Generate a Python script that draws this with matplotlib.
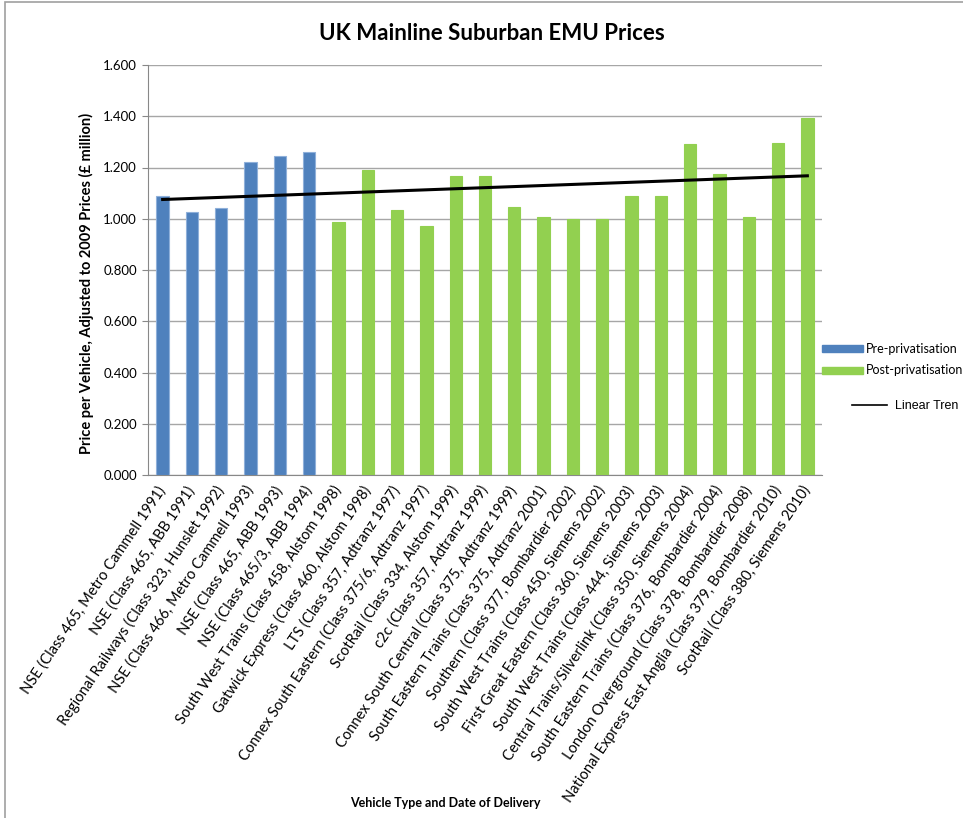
import numpy as np
import matplotlib
matplotlib.use("Agg")
import matplotlib.pyplot as plt
from matplotlib.patches import Rectangle
from matplotlib.lines import Line2D

# ==========================================================
# Data
# ==========================================================

VEHICLES = [
    "NSE (Class 465, Metro Cammell 1991)",
    "NSE (Class 465, ABB 1991)",
    "Regional Railways (Class 323, Hunslet 1992)",
    "NSE (Class 466, Metro Cammell 1993)",
    "NSE (Class 465, ABB 1993)",
    "NSE (Class 465/3, ABB 1994)",
    "South West Trains (Class 458, Alstom 1998)",
    "Gatwick Express (Class 460, Alstom 1998)",
    "LTS (Class 357, Adtranz 1997)",
    "Connex South Eastern (Class 375/6, Adtranz 1997)",
    "ScotRail (Class 334, Alstom 1999)",
    "c2c (Class 357, Adtranz 1999)",
    "Connex South Central (Class 375, Adtranz 1999)",
    "South Eastern Trains (Class 375, Adtranz 2001)",
    "Southern (Class 377, Bombardier 2002)",
    "South West Trains (Class 450, Siemens 2002)",
    "First Great Eastern (Class 360, Siemens 2003)",
    "South West Trains (Class 444, Siemens 2003)",
    "Central Trains/Silverlink (Class 350, Siemens 2004)",
    "South Eastern Trains (Class 376, Bombardier 2004)",
    "London Overground (Class 378, Bombardier 2008)",
    "National Express East Anglia (Class 379, Bombardier 2010)",
    "ScotRail (Class 380, Siemens 2010)",
]

PRICES = [
    1.087, 1.028, 1.043, 1.220, 1.245, 1.261,
    0.988, 1.191, 1.033, 0.970, 1.166, 1.166,
    1.047, 1.008, 0.999, 1.000, 1.087, 1.087,
    1.292, 1.174, 1.008, 1.296, 1.395,
]

N_PRE = 6  # first six deliveries are pre-privatisation

Y_TICKS = [0.0, 0.2, 0.4, 0.6, 0.8, 1.0, 1.2, 1.4, 1.6]

BLUE = "#4F81BD"
GREEN = "#92D050"

# ==========================================================
# Plot
# ==========================================================

plt.rcParams["font.family"] = ["Lato", "DejaVu Sans"]

fig = plt.figure(figsize=(9.63, 8.18), dpi=100)

ax = fig.add_axes([148 / 963, 1 - 475 / 818, 674 / 963, 410 / 818])

x = np.arange(len(PRICES))
colors = [BLUE if i < N_PRE else GREEN for i in x]
edges = ["#8FB0DA" if i < N_PRE else GREEN for i in x]

ax.bar(x, PRICES, width=0.42, color=colors, edgecolor=edges,
       linewidth=0.8, zorder=3)

# linear trend, as Excel draws it
slope, intercept = np.polyfit(x, PRICES, 1)
ax.plot(x, slope * x + intercept, color="black", linewidth=2.2, zorder=4)

ax.set_xlim(-0.5, len(PRICES) - 0.5)
ax.set_ylim(0, 1.6)
ax.set_yticks(Y_TICKS)
ax.set_yticklabels([f"{v:.3f}" for v in Y_TICKS], fontsize=9.5)
ax.yaxis.grid(True, color="#A6A6A6", linewidth=1.0, zorder=0)

ax.set_xticks(x)
ax.set_xticklabels(VEHICLES, rotation=56, ha="right", va="center",
                   rotation_mode="anchor", fontsize=10.5)
ax.tick_params(axis="x", length=0, pad=9)
ax.tick_params(axis="y", length=4, color="#888888", pad=4)

for side in ["top", "right"]:
    ax.spines[side].set_visible(False)
for side in ["left", "bottom"]:
    ax.spines[side].set_color("#888888")

fig.text(492 / 963, 1 - 33 / 818, "UK Mainline Suburban EMU Prices",
         ha="center", va="center", fontsize=16, fontweight="bold")

fig.text(86 / 963, 1 - 283 / 818,
         "Price per Vehicle, Adjusted to 2009 Prices (\u00a3 million)",
         ha="center", va="center", rotation=90, fontsize=10.5,
         fontweight="bold")

fig.text(445 / 963, 1 - 803 / 818, "Vehicle Type and Date of Delivery",
         ha="center", va="center", fontsize=9, fontweight="bold")

# legend, placed by hand to the right of the plot
fig.patches.append(Rectangle((822 / 963, 1 - 352 / 818), 41 / 963, 7 / 818,
                             transform=fig.transFigure, color=BLUE))
fig.patches.append(Rectangle((822 / 963, 1 - 374 / 818), 41 / 963, 7 / 818,
                             transform=fig.transFigure, color=GREEN))
fig.text(866 / 963, 1 - 349 / 818, "Pre-privatisation", fontsize=9,
         va="center")
fig.text(866 / 963, 1 - 370 / 818, "Post-privatisation", fontsize=9,
         va="center")
fig.lines.append(Line2D([852 / 963, 887 / 963], [1 - 405 / 818, 1 - 405 / 818],
                        transform=fig.transFigure, color="black",
                        linewidth=1.2))
fig.text(895 / 963, 1 - 406 / 818, "Linear Tren", fontsize=9,
         va="center", family=["Liberation Sans", "DejaVu Sans"])

# chart area border
fig.patches.append(Rectangle((5 / 963, -0.1), 1.2, 1 - 2 / 818 + 0.1,
                             transform=fig.transFigure, fill=False,
                             edgecolor="#A0A0A0", linewidth=1.2))

fig.savefig("out.png", dpi=100)
